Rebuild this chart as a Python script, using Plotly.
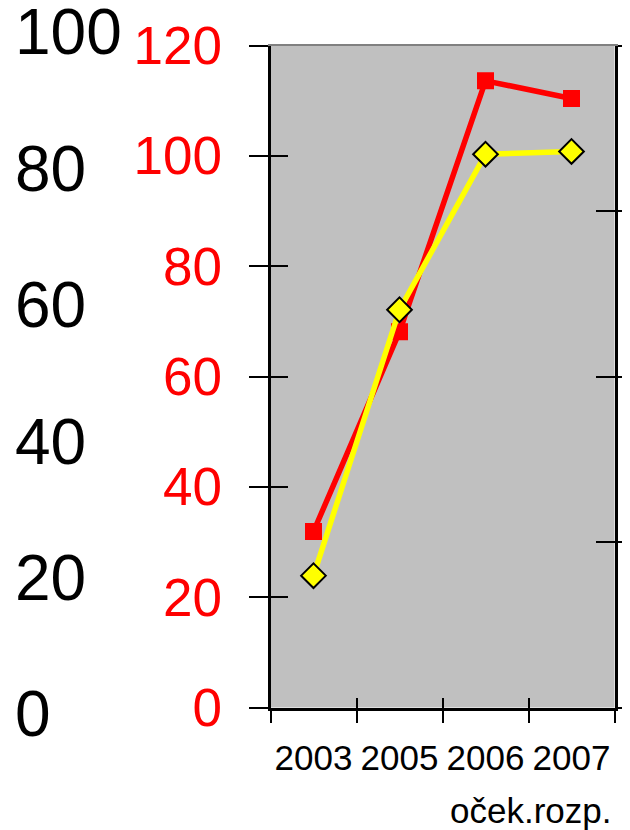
import plotly.graph_objects as go

categories = ["2003", "2005", "2006", "2007"]
red_values = [31.9, 68.1, 113.6, 110.4]
yellow_values = [23.9, 72.1, 100.3, 100.8]
left_ticks = [0, 20, 40, 60, 80, 100, 120]
black_ticks = [0, 20, 40, 60, 80, 100]
note_text = "oček.rozp."

FONT = "Liberation Sans, Arial, sans-serif"

# page body has an 8px margin, so the figure is 8px smaller and shifted
W, H = 622, 822
OFF = 8

fig = go.Figure()

# dummy invisible traces to create overlay axes
for xa, ya in [("x2", "y"), ("x3", "y"), ("x", "y5"), ("x", "y4"), ("x", "y6")]:
    fig.add_trace(go.Scatter(x=categories, y=red_values, xaxis=xa, yaxis=ya,
                             mode="lines", opacity=0, showlegend=False,
                             hoverinfo="skip"))
fig.add_trace(go.Scatter(x=[0, 1], y=black_ticks[:2], xaxis="x4", yaxis="y3",
                         mode="lines", opacity=0, showlegend=False, hoverinfo="skip"))

fig.add_trace(go.Scatter(
    x=categories, y=red_values, mode="lines+markers",
    line=dict(color="#FF0000", width=5.5),
    marker=dict(symbol="square", size=17, color="#FF0000"),
    showlegend=False))
fig.add_trace(go.Scatter(
    x=categories, y=yellow_values, mode="lines+markers",
    line=dict(color="#FFFF00", width=5.5),
    marker=dict(symbol="diamond", size=19, color="#FFFF00",
                line=dict(color="black", width=2)),
    showlegend=False))

top = 32 - OFF
bot = 714 - OFF
ph = bot - top
xd = [(270.5 - OFF) / W, (614.5 - OFF) / W]
yd = [(714 - 707.5) / ph, (714 - 45.5) / ph]

cat_common = dict(type="category", categoryorder="array", categoryarray=categories,
                  range=[-0.5, 3.5], showgrid=False, zeroline=False, fixedrange=True,
                  automargin=False, tickangle=0)

fig.update_layout(
    width=W, height=H,
    margin=dict(l=0, r=0, t=top, b=H - bot, autoexpand=False),
    paper_bgcolor="white", plot_bgcolor="rgba(0,0,0,0)",
    font=dict(family=FONT),
    xaxis=dict(domain=xd, anchor="y", tickson="boundaries", ticks="outside",
               ticklen=12, tickwidth=2, tickcolor="black", showline=True,
               linecolor="black", linewidth=3, ticklabelstandoff=17,
               tickfont=dict(size=35, color="black", family=FONT), **cat_common),
    xaxis2=dict(overlaying="x", anchor="y", side="top", showline=True,
                linecolor="#808080", linewidth=2, ticks="", showticklabels=False,
                **cat_common),
    xaxis3=dict(overlaying="x", anchor="y", side="bottom", showline=False,
                tickson="boundaries", ticks="inside", ticklen=10, tickwidth=2,
                tickcolor="black", showticklabels=False, **cat_common),
    xaxis4=dict(domain=[0, 0.01], anchor="y3", visible=False, range=[0, 1],
                automargin=False),
    yaxis=dict(domain=yd, anchor="x", range=[0, 120], tickvals=left_ticks,
               ticks="outside", ticklen=19, tickwidth=2, tickcolor="black",
               showline=True, linecolor="black", linewidth=3, showgrid=False,
               zeroline=False, ticklabelstandoff=16, automargin=False,
               ticklabeloverflow="allow",
               tickfont=dict(size=53, color="#FF0000", family=FONT)),
    yaxis5=dict(overlaying="y", anchor="x", side="left", range=[0, 120],
                tickvals=left_ticks, ticks="inside", ticklen=17, tickwidth=2,
                tickcolor="black", showline=False, showgrid=False, zeroline=False,
                showticklabels=False, automargin=False),
    yaxis4=dict(overlaying="y", anchor="x", side="right", range=[0, 4], dtick=1,
                ticks="outside", ticklen=18, tickwidth=2, tickcolor="black",
                showline=True, linecolor="black", linewidth=3, showgrid=False,
                zeroline=False, showticklabels=False, automargin=False),
    yaxis6=dict(overlaying="y", anchor="x", side="right", range=[0, 4], dtick=1,
                ticks="inside", ticklen=19, tickwidth=2, tickcolor="black",
                showline=False, showgrid=False, zeroline=False, showticklabels=False,
                automargin=False),
    yaxis3=dict(domain=[0, 1], anchor="free", position=0, side="right",
                range=[0, 100], tickvals=black_ticks, ticks="", showline=False,
                showgrid=False, zeroline=False, ticklabelstandoff=6, automargin=False,
                ticklabeloverflow="allow",
                tickfont=dict(size=64, color="black", family=FONT)),
    shapes=[dict(type="rect", xref="x domain", yref="y domain", x0=0, x1=1,
                 y0=0, y1=1, fillcolor="#C0C0C0", line=dict(width=0), layer="below")],
    annotations=[dict(text=note_text, xref="x domain", yref="paper", x=1,
                      y=(bot - (810 - OFF)) / ph,
                      xanchor="right", yanchor="middle", xshift=-2, showarrow=False,
                      font=dict(size=35, color="black", family=FONT))],
)

fig.write_html("out.html")
